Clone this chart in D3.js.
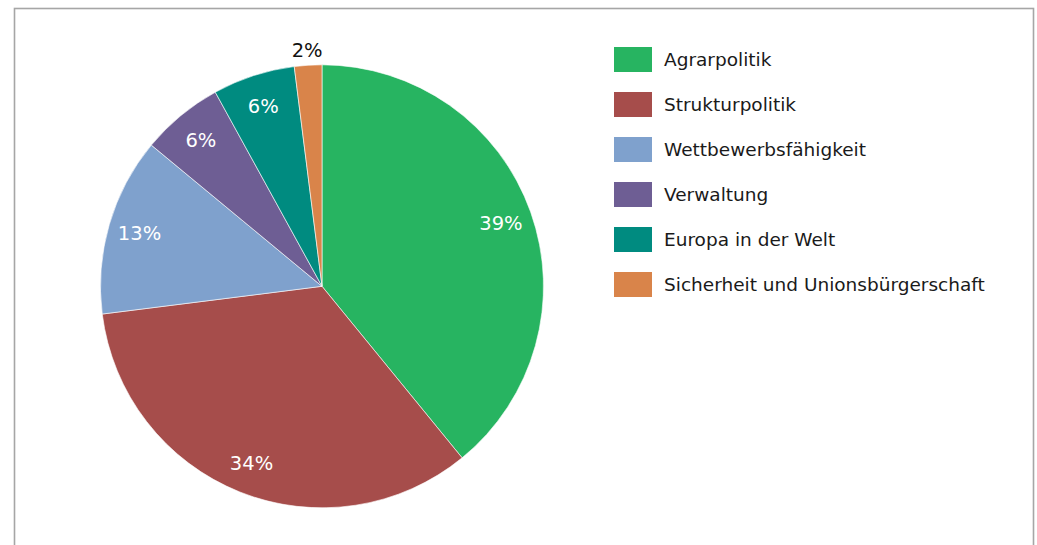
<!DOCTYPE html>
<html>
<head>
<meta charset="utf-8">
<script src="https://cdn.jsdelivr.net/npm/d3@7"></script>
<style>
  html, body { margin: 0; padding: 0; background: #fff; }
  svg { display: block; }
</style>
</head>
<body>
<svg id="chart" width="1037" height="545"></svg>
<script>
const categories = ["Agrarpolitik", "Strukturpolitik", "Wettbewerbsfähigkeit", "Verwaltung", "Europa in der Welt", "Sicherheit und Unionsbürgerschaft"];
const values = [39.1, 33.9, 13.0, 6.0, 6.0, 2.0];
const labels = ["39%", "34%", "13%", "6%", "6%", "2%"];
const colors = ["#27b461", "#a64d4b", "#7fa1cd", "#6e5e94", "#008b80", "#d9844a"];

const svg = d3.select("#chart");
const W = 1037, H = 545;

// frame
svg.append("rect")
  .attr("x", 14.5).attr("y", 8.5)
  .attr("width", 1019).attr("height", 600)
  .attr("fill", "none").attr("stroke", "#a6a6a6").attr("stroke-width", 1.6);

const cx = 322, cy = 286.3, R = 221.5;
const g = svg.append("g").attr("transform", `translate(${cx},${cy})`);

const pie = d3.pie().sort(null).value(d => d.v);
const data = categories.map((c, i) => ({ c, v: values[i], l: labels[i], col: colors[i] }));
const arcs = pie(data);

const arc = d3.arc().innerRadius(0).outerRadius(R);
g.selectAll("path.slice").data(arcs).enter().append("path")
  .attr("class", "slice")
  .attr("d", arc)
  .attr("fill", d => d.data.col)
  .attr("stroke", "#ffffff").attr("stroke-width", 0.6);

const inArc = d3.arc().innerRadius(190).outerRadius(190);
const outArc = d3.arc().innerRadius(R + 15).outerRadius(R + 15);

g.selectAll("text.lbl").data(arcs).enter().append("text")
  .attr("class", "lbl")
  .attr("transform", d => {
    const small = (d.endAngle - d.startAngle) < 0.2;
    const [x, y] = (small ? outArc : inArc).centroid(d);
    return `translate(${x},${y})`;
  })
  .attr("text-anchor", "middle")
  .attr("dy", "0.36em")
  .attr("font-family", "DejaVu Sans, Verdana, sans-serif")
  .attr("font-size", "19.5px")
  .attr("fill", d => (d.endAngle - d.startAngle) < 0.2 ? "#111" : "#ffffff")
  .text(d => d.data.l);

// legend
const ly = d3.scaleBand().domain(categories).range([47, 47 + 45 * categories.length]).paddingInner(0);
const lg = svg.append("g");
const rows = lg.selectAll("g.row").data(data).enter().append("g").attr("class", "row")
  .attr("transform", d => `translate(614,${ly(d.c)})`);
rows.append("rect").attr("width", 38).attr("height", 25).attr("fill", d => d.col);
rows.append("text")
  .attr("x", 50).attr("y", 12.5).attr("dy", "0.36em")
  .attr("font-family", "DejaVu Sans, Verdana, sans-serif")
  .attr("font-size", "18.5px")
  .attr("fill", "#1a1a1a")
  .text(d => d.c);
</script>
</body>
</html>
